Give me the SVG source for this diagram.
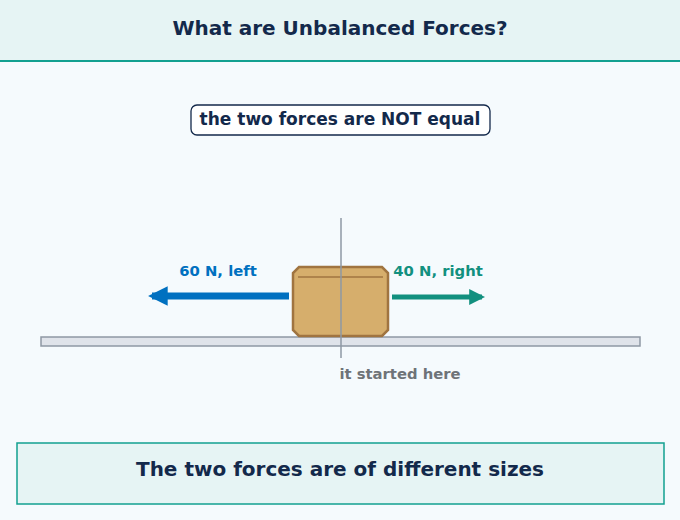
<svg xmlns="http://www.w3.org/2000/svg" width="680" height="520" viewBox="0 0 680 520">
<style>
text{font-family:"DejaVu Sans",sans-serif;font-weight:bold}
</style>
<defs>
<marker id="hb" viewBox="0 0 10 10" refX="8" refY="5" markerWidth="2.8" markerHeight="2.8" orient="auto"><path d="M0,0 L10,5 L0,10 Z" fill="#0070c0"/></marker>
<marker id="ht" viewBox="0 0 10 10" refX="8" refY="5" markerWidth="3.2" markerHeight="3.2" orient="auto"><path d="M0,0 L10,5 L0,10 Z" fill="#12907f"/></marker>
</defs>
<rect width="680" height="520" fill="#f5fafd"/>
<g id="header">
<rect width="680" height="61" fill="#e6f4f4"/>
<rect y="60" width="680" height="2" fill="#12a090"/>
<text x="340" y="35" text-anchor="middle" font-size="20" fill="#13294b">What are Unbalanced Forces?</text>
</g>
<g id="note">
<rect x="191" y="105" width="299" height="30" rx="6" fill="#fff" stroke="#13294b" stroke-width="1.3"/>
<text x="340" y="125" text-anchor="middle" font-size="17" fill="#13294b">the two forces are NOT equal</text>
</g>
<g id="ground"><rect x="41" y="337" width="599" height="9" fill="#dfe3ea" stroke="#8e98a4" stroke-width="1.5"/></g>
<g id="box">
<path d="M299,267 H382 L388,273 V330 L382,336 H299 L293,330 V273 Z" fill="#d6ae6c" stroke="#a07440" stroke-width="2.5"/>
<line x1="298" y1="277" x2="383" y2="277" stroke="#a07440" stroke-width="1.5"/>
</g>
<g id="start">
<line x1="341" y1="218" x2="341" y2="358" stroke="#8e98a4" stroke-width="1.5"/>
<text x="400" y="379" text-anchor="middle" font-size="14.8" fill="#6e7378">it started here</text>
</g>
<g id="connectors">
<line x1="289" y1="296" x2="152" y2="296" stroke="#0070c0" stroke-width="7" marker-end="url(#hb)"/>
<line x1="392" y1="297" x2="482" y2="297" stroke="#12907f" stroke-width="5" marker-end="url(#ht)"/>
</g>
<g id="labels">
<text x="218" y="276" text-anchor="middle" font-size="14.8" fill="#0070c0">60 N, left</text>
<text x="438" y="276" text-anchor="middle" font-size="14.8" fill="#12907f">40 N, right</text>
</g>
<g id="footer">
<rect x="17" y="443" width="647" height="61" fill="#e6f4f4" stroke="#12a090" stroke-width="1.5"/>
<text x="340" y="476" text-anchor="middle" font-size="20" fill="#13294b">The two forces are of different sizes</text>
</g>
</svg>
